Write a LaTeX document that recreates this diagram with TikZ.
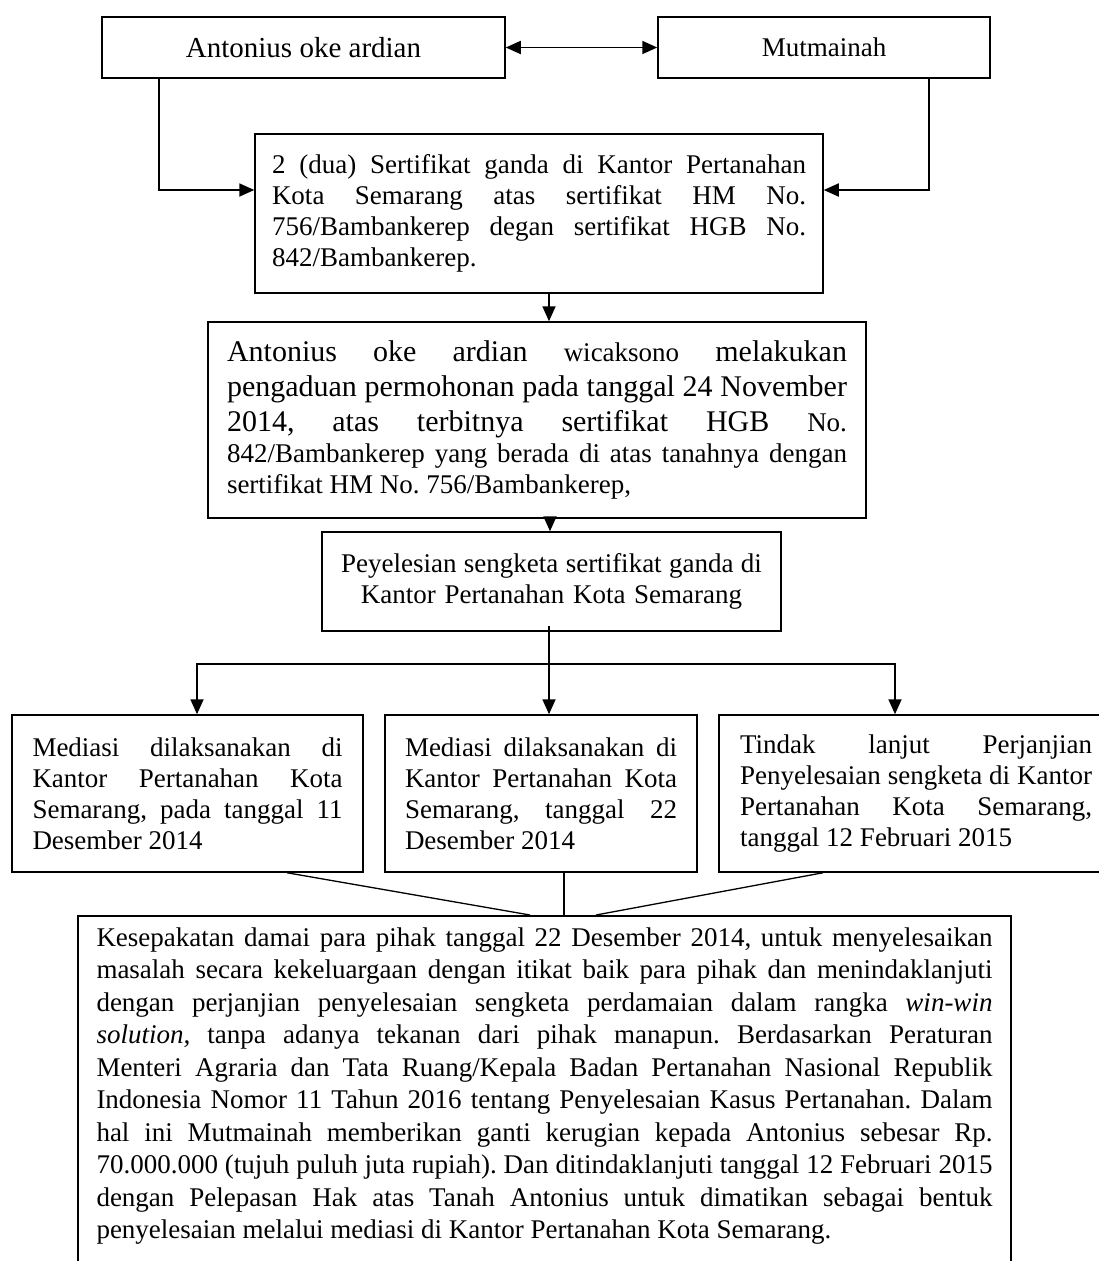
\documentclass[tikz,border=0pt]{standalone}
\usepackage{fontspec}
\setmainfont{Liberation Serif}
\usetikzlibrary{arrows.meta}
\frenchspacing

% natural, stretchable interword spaces inside node paragraphs
\newcommand\natsp{\spaceskip=0pt\xspaceskip=0pt\relax}
% one justified line: the interword glue is stretched to the full line width
\newcommand\jline[1]{\makebox[\hsize][s]{#1}}
\newcommand\bodyfont{\fontsize{27}{31}\selectfont}
\newcommand\bigfont{\fontsize{30}{35}\selectfont}

\begin{document}
\begin{tikzpicture}[x=1pt, y=-1pt,
  box/.style={draw, line width=1.5pt, inner xsep=0pt, inner ysep=8pt, font=\bodyfont},
  head/.style={Triangle[length=15pt,width=13pt]},
  arr/.style={line width=1.8pt, -{Triangle[length=15pt,width=13pt]}},
  link/.style={line width=1.3pt}]

\fill[white] (0,0) rectangle (1099,1261);
\useasboundingbox (0,0) rectangle (1099,1261);

% parties
\node[box, minimum width=403pt, minimum height=61pt, font=\fontsize{29}{33}\selectfont]
  (ant) at (303.5,47.5) {Antonius oke ardian};
\node[box, minimum width=332pt, minimum height=61pt]
  (mut) at (824,47.5) {Mutmainah};

% double certificate
\node[box, text width=534pt, minimum width=568pt, minimum height=159pt, align=left]
  (dup) at (539,213.5) {\natsp
  \jline{2 (dua) Sertifikat ganda di Kantor Pertanahan}\\
  \jline{Kota Semarang atas sertifikat HM No.}\\
  \jline{756/Bambankerep degan sertifikat HGB No.}\\
  842/Bambankerep.};

% complaint
\node[box, text width=620pt, minimum width=658pt, minimum height=196pt, align=left]
  (comp) at (537,420) {\natsp
  {\bigfont
  \jline{Antonius oke ardian {\bodyfont wicaksono} melakukan}\\
  \jline{pengaduan permohonan pada tanggal 24 November}\\
  \jline{2014, atas terbitnya sertifikat HGB {\bodyfont No.}}\par}
  \jline{842/Bambankerep yang berada di atas tanahnya dengan}\\
  sertifikat HM No. 756/Bambankerep,};

% settlement
\node[box, text width=440pt, minimum width=459pt, minimum height=99pt, align=center]
  (settle) at (551.5,581.5) {\natsp Peyelesian sengketa sertifikat ganda di\\
  Kantor Pertanahan Kota Semarang};

% three steps
\node[box, text width=310pt, minimum width=351pt, minimum height=157pt, align=left]
  (med1) at (187.5,793.5) {\natsp
  \jline{Mediasi dilaksanakan di}\\
  \jline{Kantor Pertanahan Kota}\\
  \jline{Semarang, pada tanggal 11}\\
  Desember 2014};
\node[box, text width=272pt, minimum width=312pt, minimum height=157pt, align=left]
  (med2) at (541,793.5) {\natsp
  \jline{Mediasi dilaksanakan di}\\
  \jline{Kantor Pertanahan Kota}\\
  \jline{Semarang, tanggal 22}\\
  Desember 2014};
\node[box, text width=352pt, minimum width=394pt, minimum height=157pt, align=left]
  (follow) at (916,793.5) {\natsp
  \jline{Tindak lanjut Perjanjian}\\
  \jline{Penyelesaian sengketa di Kantor}\\
  \jline{Pertanahan Kota Semarang,}\\
  tanggal 12 Februari 2015};

% agreement (frame runs on below the page)
\node[box, anchor=north, text width=896pt, minimum width=933pt, inner ysep=12pt,
  text depth=340pt, align=left, font=\fontsize{27}{32.5}\selectfont]
  (agree) at (544.5,915) {\natsp
  \jline{Kesepakatan damai para pihak tanggal 22 Desember 2014, untuk menyelesaikan}\\
  \jline{masalah secara kekeluargaan dengan itikat baik para pihak dan menindaklanjuti}\\
  \jline{dengan perjanjian penyelesaian sengketa perdamaian dalam rangka \textit{win-win}}\\
  \jline{\textit{solution,} tanpa adanya tekanan dari pihak manapun. Berdasarkan Peraturan}\\
  \jline{Menteri Agraria dan Tata Ruang/Kepala Badan Pertanahan Nasional Republik}\\
  \jline{Indonesia Nomor 11 Tahun 2016 tentang Penyelesaian Kasus Pertanahan. Dalam}\\
  \jline{hal ini Mutmainah memberikan ganti kerugian kepada Antonius sebesar Rp.}\\
  \jline{70.000.000 (tujuh puluh juta rupiah). Dan ditindaklanjuti tanggal 12 Februari 2015}\\
  \jline{dengan Pelepasan Hak atas Tanah Antonius untuk dimatikan sebagai bentuk}\\
  penyelesaian melalui mediasi di Kantor Pertanahan Kota Semarang.};

% connectors
\draw[line width=1.8pt, {Triangle[length=15pt,width=13pt]}-{Triangle[length=15pt,width=13pt]}]
  (ant.east) -- (mut.west);
\draw[arr] ([xshift=58pt]ant.south west) |- ([yshift=23.5pt]dup.west);
\draw[arr] ([xshift=-62pt]mut.south east) |- ([yshift=23.5pt]dup.east);
\draw[arr] ([xshift=10pt]dup.south) -- ([xshift=10pt]dup.south |- comp.north);
\draw[arr] ([xshift=13pt]comp.south) -- ([xshift=13pt]comp.south |- settle.north);

\coordinate (fork) at ([xshift=-2.5pt,yshift=-32pt]settle.south);
\draw[link] ([xshift=-2.5pt,yshift=6pt]settle.south) -- (fork);
\draw[arr] (fork) -| ([xshift=9.5pt]med1.north);
\draw[arr] (fork) -| ([xshift=-21pt]follow.north);
\draw[arr] (fork) -- (fork |- med2.north);

\draw[link] ([xshift=99.5pt]med1.south) -- ([xshift=-14.5pt]agree.north);
\draw[link] ([xshift=23pt]med2.south) -- ([xshift=23pt]med2.south |- agree.north);
\draw[link] ([xshift=-93pt]follow.south) -- ([xshift=51.5pt]agree.north);

\end{tikzpicture}
\end{document}
